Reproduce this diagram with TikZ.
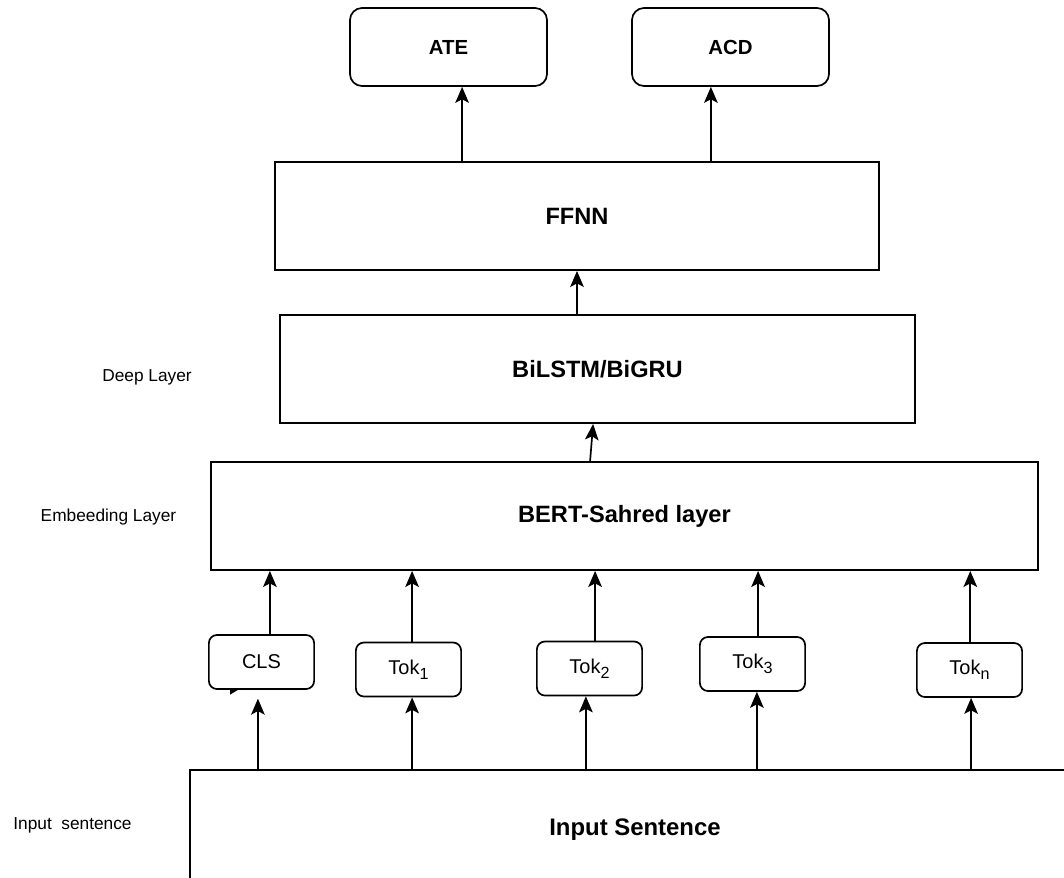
\documentclass[tikz,border=0pt]{standalone}
\usepackage{fontspec}
\setmainfont{Liberation Sans}
\usepackage{tikz}
\usetikzlibrary{arrows.meta}
\newcommand{\toksub}[1]{\raisebox{-0.45ex}{\fontsize{11.5}{12}\selectfont #1}}
\tikzset{
	outbox/.style  ={rectangle, rounded corners=0.3cm, draw=black, line width=1.2pt, minimum width=4.925cm, minimum height=1.95cm, align=center, font=\fontsize{14.5}{17}\selectfont\bfseries},
	layer/.style   ={rectangle, draw=black, line width=1.35pt, minimum height=2.7cm, align=center, font=\fontsize{16.8}{20}\selectfont\bfseries},
	tokbox/.style  ={rectangle, rounded corners=0.2cm, draw=black, line width=1.2pt, minimum width=2.63cm, minimum height=1.35cm, align=center, font=\fontsize{14.2}{17}\selectfont},
	sidelab/.style ={align=center, font=\fontsize{12.3}{14}\selectfont},
	arr/.style     ={-{Stealth[length=4mm, width=3.4mm, inset=0.9mm]}, line width=1.2pt},
}
\begin{document}
\begin{tikzpicture}
	\clip (0,0) rectangle (26.6,-21.925);
	\useasboundingbox (0,0) rectangle (26.6,-21.925);
	% outputs
	\node[outbox] (ate) at (11.2125,-1.175) {ATE};
	\node[outbox] (acd) at (18.2625,-1.175) {ACD};
	% layers
	\node[layer, minimum width=15.1cm] (ffnn) at (14.425,-5.4) {FFNN};
	\node[layer, minimum width=15.875cm] (bilstm) at (14.9375,-9.225) {BiLSTM/BiGRU};
	\node[layer, minimum width=20.675cm] (bert) at (15.6125,-12.9) {BERT-Sahred layer};
	% tokens
	\node[tokbox] (cls) at (6.5375,-16.55) {CLS};
	\node[tokbox] (tok1) at (10.2125,-16.7375) {Tok\toksub{1}};
	\node[tokbox] (tok2) at (14.7375,-16.7125) {Tok\toksub{2}};
	\node[tokbox] (tok3) at (18.8125,-16.6) {Tok\toksub{3}};
	\node[tokbox] (tokn) at (24.2375,-16.75) {Tok\toksub{n}};
	\fill[black] ([xshift=0.55cm]cls.south west) -- ++(0.2,0) -- ++(-0.2,-0.12) -- cycle;
	\node[layer, minimum width=22.25cm, minimum height=3cm, font=\fontsize{17}{20}\selectfont\bfseries] (input) at (15.875,-20.75) {Input Sentence};
	% side labels
	\node[sidelab] (deeplab) at (3.675,-9.425) {Deep Layer};
	\node[sidelab] (emblab) at (2.7125,-12.925) {Embeeding Layer};
	\node[sidelab] (inplab) at (1.8125,-20.625) {Input\ \ sentence};
	% arrows
	\draw[arr] ([xshift=0.34cm]ate.south |- ffnn.north) -- ([xshift=0.34cm]ate.south);
	\draw[arr] ([xshift=-0.49cm]acd.south |- ffnn.north) -- ([xshift=-0.49cm]acd.south);
	\draw[arr] (bilstm.north -| ffnn.south) -- (ffnn.south);
	\draw[arr] ([xshift=-0.86cm]bert.north) -- ([xshift=-0.11cm]bilstm.south);
	\draw[arr] ([xshift=0.21cm]cls.north) -- ([xshift=0.21cm]cls.north |- bert.south);
	\draw[arr] ([xshift=0.09cm]tok1.north) -- ([xshift=0.09cm]tok1.north |- bert.south);
	\draw[arr] ([xshift=0.14cm]tok2.north) -- ([xshift=0.14cm]tok2.north |- bert.south);
	\draw[arr] ([xshift=0.14cm]tok3.north) -- ([xshift=0.14cm]tok3.north |- bert.south);
	\draw[arr] ([xshift=0.02cm]tokn.north) -- ([xshift=0.02cm]tokn.north |- bert.south);
	\draw[arr, shorten >=0.22cm] ([xshift=-0.09cm]cls.south |- input.north) -- ([xshift=-0.09cm]cls.south);
	\draw[arr] ([xshift=0.09cm]tok1.south |- input.north) -- ([xshift=0.09cm]tok1.south);
	\draw[arr] ([xshift=-0.09cm]tok2.south |- input.north) -- ([xshift=-0.09cm]tok2.south);
	\draw[arr] ([xshift=0.11cm]tok3.south |- input.north) -- ([xshift=0.11cm]tok3.south);
	\draw[arr] ([xshift=0.04cm]tokn.south |- input.north) -- ([xshift=0.04cm]tokn.south);
\end{tikzpicture}
\end{document}
